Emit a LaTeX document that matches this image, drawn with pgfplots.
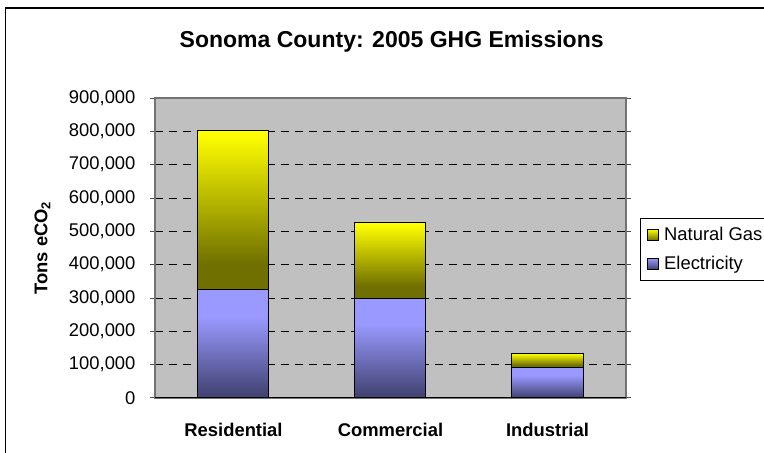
\documentclass[border=0pt]{standalone}
\usepackage{fontspec}
\setmainfont{Liberation Sans}
\usepackage{pgfplots}
\pgfplotsset{compat=1.18}
\definecolor{plotbg}{RGB}{192,192,192}
\definecolor{gasdark}{RGB}{112,112,0}
\definecolor{gaslight}{RGB}{255,255,0}
\definecolor{elecdark}{RGB}{68,68,118}
\definecolor{eleclight}{RGB}{153,153,255}
\pgfdeclareverticalshading{gasshade}{100bp}{color(0bp)=(gasdark); color(33bp)=(gasdark); color(74bp)=(gaslight); color(100bp)=(gaslight)}
\pgfdeclareverticalshading{elecshade}{100bp}{color(0bp)=(elecdark); color(27bp)=(elecdark); color(62bp)=(eleclight); color(100bp)=(eleclight)}
\pgfdeclareverticalshading{gasleg}{100bp}{color(0bp)=(gasdark); color(25bp)=(gasdark); color(75bp)=(gaslight); color(100bp)=(gaslight)}
\pgfdeclareverticalshading{elecleg}{100bp}{color(0bp)=(elecdark); color(25bp)=(elecdark); color(75bp)=(eleclight); color(100bp)=(eleclight)}
\pgfplotsset{
  elecbar/.style={draw=black, line width=1pt, shading=elecshade,
    legend image code/.code={\draw[black, line width=0.8pt, shading=elecleg] (0pt,-5.5pt) rectangle (11pt,5.5pt);}},
  gasbar/.style={draw=black, line width=1pt, shading=gasshade,
    legend image code/.code={\draw[black, line width=0.8pt, shading=gasleg] (0pt,-5.5pt) rectangle (11pt,5.5pt);}},
}
\begin{document}
\begin{tikzpicture}
\useasboundingbox (0,0) rectangle (764pt,453pt);
\draw[black, line width=1.3pt] (5.5pt,-10pt) -- (5.5pt,445pt) -- (790pt,445pt);
\begin{axis}[
  at={(155pt,55pt)}, anchor=south west,
  scale only axis, width=471pt, height=300pt,
  xmin=-0.5, xmax=2.5, ymin=0, ymax=900000,
  ybar stacked, stacked ignores zero, bar width=71pt,
  axis background/.style={fill=plotbg},
  axis line style={draw=black!55, line width=1.2pt},
  xtick={0,1,2},
  xticklabels={Residential,Commercial,Industrial},
  xtick style={draw=none},
  extra x ticks={-0.5,0.5,1.5,2.5},
  extra x tick labels={},
  extra x tick style={major tick length=5pt, tick align=outside, tick style={draw=black!60, line width=1pt}},
  ytick={0,100000,200000,300000,400000,500000,600000,700000,800000,900000},
  scaled y ticks=false,
  ytick style={draw=black!70, line width=1pt},
  tick align=outside, major tick length=5pt,
  ymajorgrids,
  major grid style={draw=black, dash pattern=on 8pt off 6pt, line width=0.9pt},
  /pgf/number format/assume math mode=true,
  tick label style={font=\fontsize{18.4}{22}\selectfont},
  yticklabel style={xshift=-11pt, /pgf/number format/.cd, fixed, 1000 sep={,}},
  xticklabel style={font=\fontsize{18.4}{22}\selectfont\bfseries, yshift=-17pt},
  title={Sonoma County: 2005 GHG Emissions},
  title style={font=\fontsize{23}{27}\selectfont\bfseries, at={(axis description cs:0.5025,1.15)}, anchor=base},
  ylabel={Tons eCO\textsubscript{2}},
  ylabel style={font=\fontsize{18.4}{22}\selectfont\bfseries, at={(axis description cs:-0.239,0.5)}, anchor=center},
  reverse legend,
  legend cell align=left,
  legend style={at={(axis description cs:1.0297,0.6)}, anchor=north west, draw=black, line width=0.8pt, fill=white, font=\fontsize{18.4}{22}\selectfont, inner xsep=7pt, inner ysep=7pt, row sep=10pt, /tikz/every odd column/.append style={column sep=3pt}},
]
% Residential
\addplot[elecbar] coordinates {(0,327000) (1,0) (2,0)};
\addlegendentry{Electricity}
\addplot[gasbar] coordinates {(0,476000) (1,0) (2,0)};
\addlegendentry{Natural Gas}
% Commercial
\addplot[elecbar] coordinates {(0,0) (1,299000) (2,0)};
\addplot[gasbar] coordinates {(0,0) (1,227000) (2,0)};
% Industrial
\addplot[elecbar] coordinates {(0,0) (1,0) (2,92000)};
\addplot[gasbar] coordinates {(0,0) (1,0) (2,42000)};
\draw[black, line width=1.2pt] (rel axis cs:0,0) -- (rel axis cs:1,0);
\end{axis}
\end{tikzpicture}
\end{document}
